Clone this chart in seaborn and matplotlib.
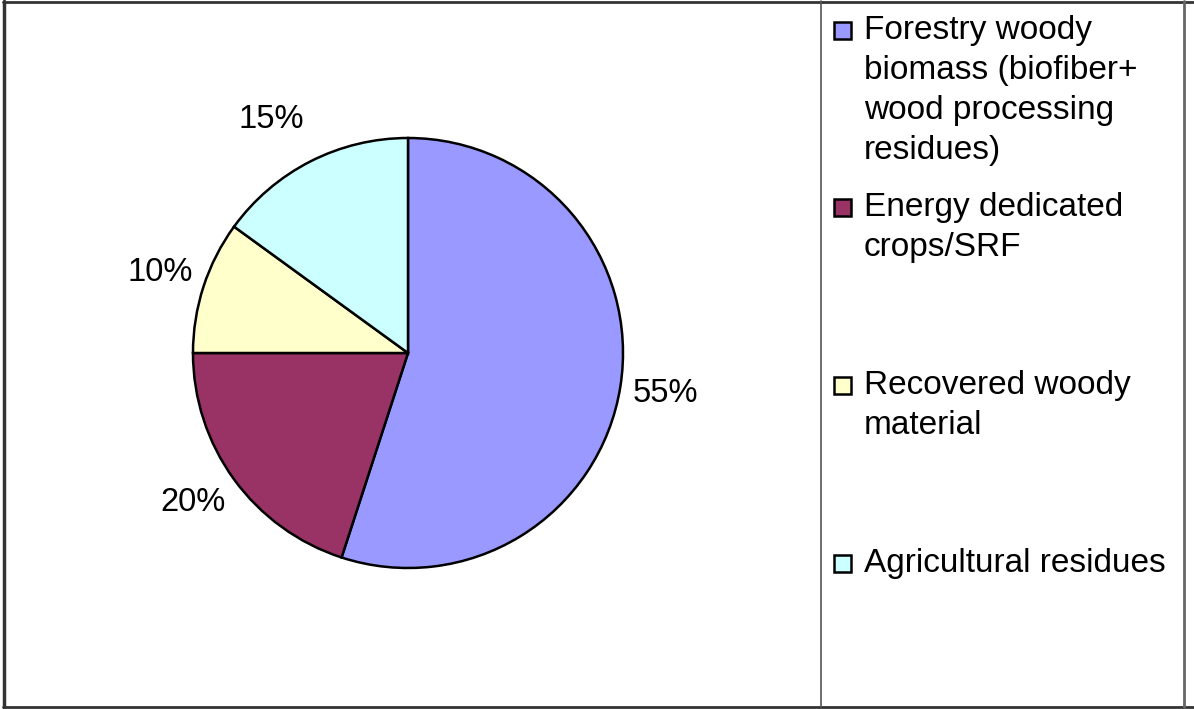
import numpy as np
import seaborn as sns
import matplotlib.pyplot as plt
from matplotlib.patches import Rectangle
from matplotlib.lines import Line2D

categories = ["Forestry woody\nbiomass (biofiber+\nwood processing\nresidues)",
              "Energy dedicated\ncrops/SRF",
              "Recovered woody\nmaterial",
              "Agricultural residues"]
shares = [55, 20, 10, 15]
colors = ["#9999FF", "#993366", "#FFFFCC", "#CCFFFF"]

sns.set_theme(style="white")
plt.rcParams["font.family"] = ["Liberation Sans", "DejaVu Sans"]

W, H = 1194, 709
fig = plt.figure(figsize=(W / 100, H / 100), dpi=100)
fig.patch.set_facecolor("white")

# pie axes: center (408, 353) px, radius 215 px
cx, cy, r = 408, 353, 215
ax = fig.add_axes([(cx - r) / W, (H - cy - r) / H, 2 * r / W, 2 * r / H])
wedges, texts, autotexts = ax.pie(
    shares, colors=colors, startangle=90, counterclock=False,
    autopct="%1.0f%%", pctdistance=1.21,
    wedgeprops=dict(edgecolor="black", linewidth=1.8),
    textprops=dict(fontsize=23.5, color="black"))
# nudge labels like the original layout
x, y = autotexts[3].get_position()
autotexts[3].set_position((x - 0.085, y + 0.01))
x, y = autotexts[1].get_position()
autotexts[1].set_position((x - 0.02, y + 0.015))
ax.set_aspect("equal")
ax.set_xlim(-1, 1)
ax.set_ylim(-1, 1)
ax.axis("off")


# frame lines
def hline(y, x0=0, x1=W, c="#333333", lw=2.0):
    fig.add_artist(Line2D([x0 / W, x1 / W], [1 - y / H, 1 - y / H],
                          color=c, lw=lw, transform=fig.transFigure))


def vline(x, y0=0, y1=H, c="#333333", lw=2.0):
    fig.add_artist(Line2D([x / W, x / W], [1 - y0 / H, 1 - y1 / H],
                          color=c, lw=lw, transform=fig.transFigure))


hline(1.5, x0=3)
hline(707, x0=3)
vline(3.5, y0=1, y1=707, lw=2.5)
vline(821, y0=1, y1=707, c="#555555", lw=1.2)
vline(1184, y0=1, y1=707, c="#666666", lw=2.0)

# legend entries (baseline of first text line, px)
legend_base = [40, 217, 395, 573]
for label, col, base in zip(categories, colors, legend_base):
    fig.add_artist(Rectangle((834 / W, 1 - (base - 1) / H), 17 / W, 17 / H,
                             facecolor=col, edgecolor="black", lw=1.8,
                             transform=fig.transFigure))
    fig.text(864 / W, 1 - (base - 25) / H, label, fontsize=24, va="top",
             ha="left", linespacing=1.37, color="black")

fig.savefig("out.png", dpi=100)
